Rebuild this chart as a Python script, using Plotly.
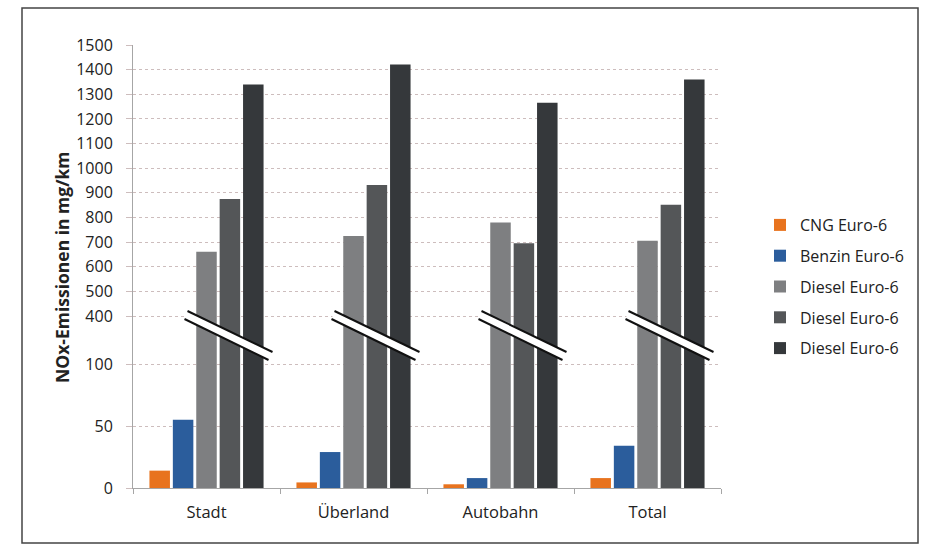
import plotly.graph_objects as go

# ---------------- data ----------------
categories = ["Stadt", "Überland", "Autobahn", "Total"]
series_names = ["CNG Euro-6", "Benzin Euro-6", "Diesel Euro-6", "Diesel Euro-6", "Diesel Euro-6"]
cng = [14, 4.5, 3, 8]
benzin = [55, 29, 8, 34]
diesel_a = [661, 725, 780, 705]
diesel_b = [875, 932, 695, 852]
diesel_c = [1340, 1421, 1266, 1360]
lower_ticks = [0, 50, 100]
upper_ticks = list(range(400, 1501, 100))

colors = ["#E8731E", "#2B5D9C", "#7E7F81", "#545658", "#35383B"]
values = [cng, benzin, diesel_a, diesel_b, diesel_c]

# ---------------- layout geometry (pixels) ----------------
W, H = 925, 546
L, R, T, B = 133, 204, 45, 58
plot_w = W - L - R
plot_h = H - T - B
y0_px = H - B           # pixel row of value 0
px_per_unit_low = 1.24  # lower segment: 62 px per 50
px_per_unit_up = (316 - 45) / 1100.0
junction_px = 340
low_max = (y0_px - junction_px) / px_per_unit_low
up_min = 400 - (junction_px - 316) / px_per_unit_up
junction_frac = (y0_px - junction_px) / plot_h

def py(p):
    return (y0_px - p) / plot_h

def pxx(p):
    return (p - L) / plot_w

FONT = "Open Sans"
TXT = "#222222"
fig = go.Figure()

for i, (name, col, vals) in enumerate(zip(series_names, colors, values)):
    fig.add_trace(go.Bar(
        x=categories, y=vals, name=name, marker=dict(color=col, line=dict(width=0)),
        yaxis="y", legendgroup=f"g{i}", showlegend=True,
    ))
for i, (name, col, vals) in enumerate(zip(series_names, colors, values)):
    fig.add_trace(go.Bar(
        x=categories, y=vals, name=name, marker=dict(color=col, line=dict(width=0)),
        yaxis="y2", legendgroup=f"g{i}", showlegend=False,
    ))

grid_col = "#CDBDBD"
axis_col = "#A6A6A6"

fig.update_layout(
    width=W, height=H,
    margin=dict(l=L, r=R, t=T, b=B),
    paper_bgcolor="white", plot_bgcolor="white",
    barmode="group", bargap=0.204, bargroupgap=0.124,
    font=dict(family=FONT, size=16, color=TXT),
    xaxis=dict(
        type="category", showline=True, linecolor=axis_col, linewidth=1,
        ticks="outside", tickson="boundaries", ticklen=5, tickcolor=axis_col,
        tickfont=dict(size=16.5, color=TXT), ticklabelstandoff=9, showgrid=False,
        anchor="y",
    ),
    yaxis=dict(
        domain=[0, junction_frac], range=[0, low_max],
        tickvals=lower_ticks, showgrid=True, gridcolor=grid_col, griddash="dot",
        gridwidth=1, showline=True, linecolor=axis_col, linewidth=1,
        ticks="outside", ticklen=6, tickcolor=grid_col, ticklabelstandoff=10,
        zeroline=False, tickfont=dict(size=16, color=TXT), anchor="x",
    ),
    yaxis2=dict(
        domain=[junction_frac, 1], range=[up_min, 1500],
        tickvals=upper_ticks, showgrid=True, gridcolor=grid_col, griddash="dot",
        gridwidth=1, showline=True, linecolor=axis_col, linewidth=1,
        ticks="outside", ticklen=6, tickcolor=grid_col, ticklabelstandoff=10,
        zeroline=False, tickfont=dict(size=16, color=TXT), anchor="x",
    ),
    legend=dict(
        x=pxx(760), y=py(208), xanchor="left", yanchor="top",
        font=dict(size=16, color=TXT), tracegroupgap=7,
        bgcolor="rgba(0,0,0,0)",
    ),
    showlegend=True,
)

# y-axis title
fig.add_annotation(
    text="<b>NOx-Emissionen in mg/km</b>", textangle=-90,
    xref="paper", yref="paper", x=pxx(48), y=py(268),
    showarrow=False, font=dict(size=17.5, color=TXT),
)

# axis break marks across the diesel bars of every group
cat_w = plot_w / len(categories)
shapes = []
for i in range(len(categories)):
    def cx(dx, i=i):
        return i + dx / cat_w
    tl = (cx(-19), py(311)); tr = (cx(66), py(352))
    bl = (cx(-22), py(319)); br = (cx(62), py(360))
    path = f"M {tl[0]},{tl[1]} L {tr[0]},{tr[1]} L {br[0]},{br[1]} L {bl[0]},{bl[1]} Z"
    shapes.append(dict(type="path", path=path, xref="x", yref="paper",
                       fillcolor="white", line=dict(width=0), layer="above"))
    shapes.append(dict(type="line", xref="x", yref="paper", x0=tl[0], y0=tl[1], x1=tr[0], y1=tr[1],
                       line=dict(color="#111111", width=2), layer="above"))
    shapes.append(dict(type="line", xref="x", yref="paper", x0=bl[0], y0=bl[1], x1=br[0], y1=br[1],
                       line=dict(color="#111111", width=2), layer="above"))

# outer frame
shapes.append(dict(type="rect", xref="paper", yref="paper",
                   x0=pxx(22), x1=pxx(918), y0=py(543), y1=py(8),
                   line=dict(color="#444444", width=1.5), fillcolor="rgba(0,0,0,0)", layer="below"))
fig.update_layout(shapes=shapes)

fig.write_html("out.html")
